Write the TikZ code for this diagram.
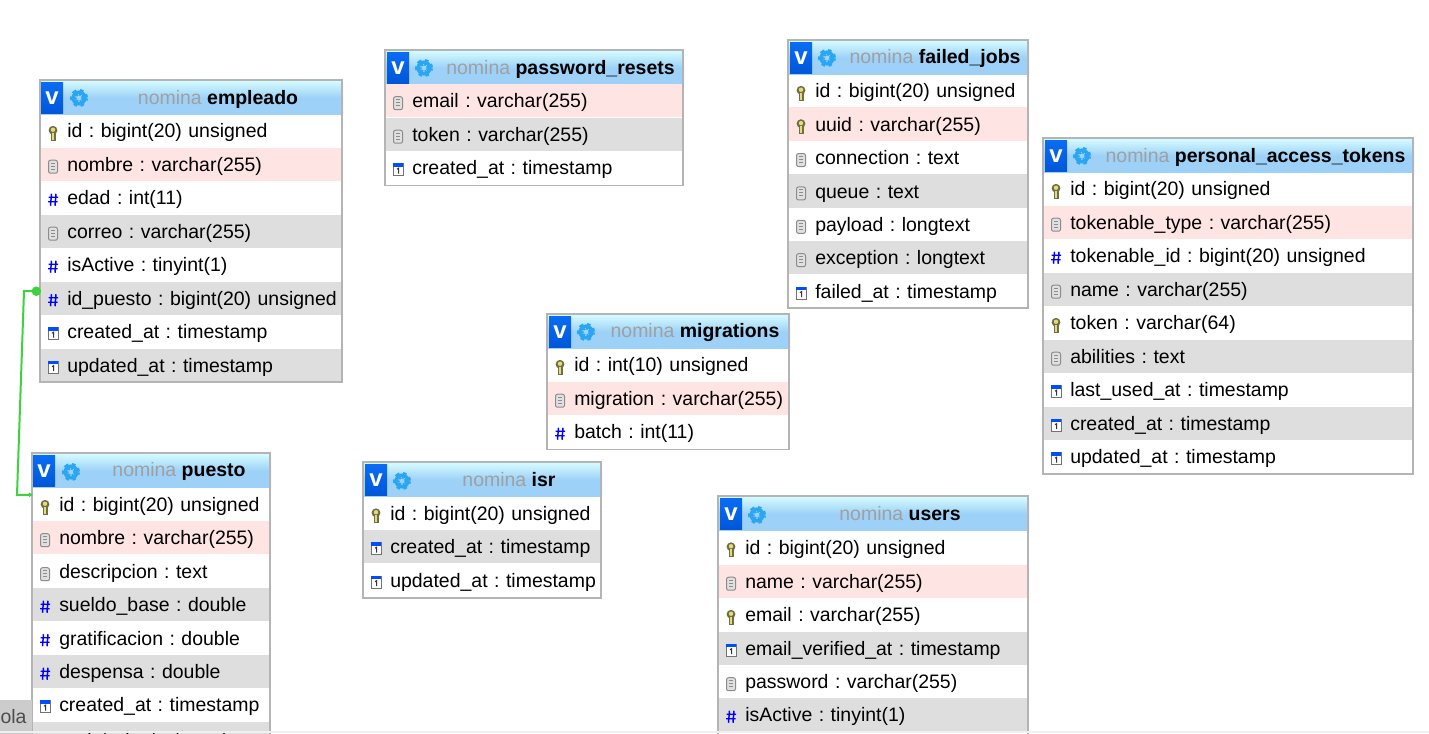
\documentclass[tikz,border=0pt]{standalone}
\usepackage{fontspec}
\setmainfont{Liberation Sans}
\usetikzlibrary{arrows.meta,positioning}
\definecolor{framegray}{HTML}{B4B4B4}
\definecolor{rowpinkc}{HTML}{FFE4E4}
\definecolor{rowgrayc}{HTML}{DEDEDE}
\definecolor{headtop}{HTML}{D4FBFF}
\definecolor{headmid}{HTML}{9DD1F7}
\definecolor{gearblue}{HTML}{2BA6F3}
\definecolor{fkgreen}{HTML}{3FD13F}
\definecolor{titlegray}{HTML}{A0A0A0}
\definecolor{vtop}{HTML}{0A6CF5}
\definecolor{vbot}{HTML}{0057D8}
\definecolor{keyedge}{HTML}{6E6E4A}
\definecolor{keyfill}{HTML}{E6DA72}
\frenchspacing
\hyphenpenalty=10000

\begin{document}
\begin{tikzpicture}
[x=0.75pt, y=-0.75pt, line width=0.75pt,
row/.style={rectangle, anchor=north west, inner sep=0pt, outer sep=0pt, align=left,
  minimum height=25.1pt, text height=12.8pt, text depth=2pt, font=\fontsize{14.6}{18}\selectfont,
  execute at begin node={\hspace*{19.7pt}}},
rowpink/.style={fill=rowpinkc},
rowgray/.style={fill=rowgrayc},
keypic/.pic={
  \fill[keyedge] (9.5,2) rectangle (15,10);
  \fill[keyedge] (12,-0.5) circle (4.4);
  \fill[keyfill] (12,-1) circle (2.2);
  \fill[keyfill] (11.2,2) rectangle (12.8,9);},
docpic/.pic={
  \draw[black!45,fill=black!12,rounded corners=1.5pt] (7.5,-4) rectangle (16.5,9);
  \draw[black!45] (10,-1) -- (14,-1) (10,2) -- (14,2) (10,5) -- (14,5);},
numpic/.pic={
  \draw[blue, line width=1.1pt] (10.5,-4) -- (9.5,8) (15,-4) -- (14,8) (7.5,-0.5) -- (17,-0.5) (7,4) -- (16.5,4);},
calpic/.pic={
  \draw[black!55,fill=white] (7,-4) rectangle (17,8);
  \fill[blue!70!cyan] (7,-4.5) rectangle (17,-1);
  \draw[black!80] (11,1.5) -- (12.5,0.5) -- (12.5,6);},
iconkey/.style={append after command={(\tikzlastnode.west) pic {keypic}}},
icondoc/.style={append after command={(\tikzlastnode.west) pic {docpic}}},
iconnum/.style={append after command={(\tikzlastnode.west) pic {numpic}}},
iconcal/.style={append after command={(\tikzlastnode.west) pic {calpic}}},
headbar/.style={rectangle, anchor=north west, inner sep=0pt, outer sep=0pt, minimum height=25pt,
  top color=headtop, bottom color=headmid, middle color=headmid},
vbutton/.style={rectangle, anchor=north west, inner sep=0pt, outer sep=0pt, minimum width=16.5pt, minimum height=23.5pt,
  top color=vtop, bottom color=vbot, text=white, font=\fontsize{18}{18}\selectfont\bfseries},
gearicon/.style={circle, draw=gearblue, line width=2.7pt, inner sep=0pt, minimum size=8.6pt,
  preaction={draw, line width=4.9pt, dash pattern=on 2.1pt off 2.1pt}},
tabletitle/.style={inner sep=0pt, yshift=-1.5pt, font=\fontsize{14.6}{18}\selectfont},
tableframe/.style={rectangle, anchor=north west, draw=framegray, line width=0.8pt, inner sep=0pt, outer sep=0pt},
fklink/.style={draw=fkgreen, line width=1.5pt, {Circle[length=7pt]}-{Latex[length=3pt,width=4pt]}}]

\path[use as bounding box,clip] (0,0) rectangle (1429,733);
\fill[white] (0,0) rectangle (1429,733);

% empleado
\begin{scope}[row/.append style={text width=226.5pt}]
\node[headbar, minimum width=226.5pt] (emphead) at (41,81) {};
\node[vbutton] (empv) at (41,82) {v};
\node[gearicon] (empgear) at (79,98) {};
\node[tabletitle] (emptitle) at (218,97) {\textcolor{titlegray}{nomina} \textbf{empleado}};
\node[row, iconkey] (emp1) at (41,114) {id : bigint(20) unsigned};
\node[row, rowpink, icondoc] (emp2) at (41,147.5) {nombre : varchar(255)};
\node[row, iconnum] (emp3) at (41,181) {edad : int(11)};
\node[row, rowgray, icondoc] (emp4) at (41,214.5) {correo : varchar(255)};
\node[row, iconnum] (emp5) at (41,248) {isActive : tinyint(1)};
\node[row, rowgray, iconnum] (emp6) at (41,281.5) {id\_puesto : bigint(20) unsigned};
\node[row, iconcal] (emp7) at (41,315) {created\_at : timestamp};
\node[row, rowgray, iconcal] (emp8) at (41,348.5) {updated\_at : timestamp};
\node[tableframe, minimum width=226.5pt, minimum height=226.5pt] (empbox) at (40,80) {};
\end{scope}

% password_resets
\begin{scope}[row/.append style={text width=223.5pt}]
\node[headbar, minimum width=223.5pt] (pwdhead) at (386,51) {};
\node[vbutton] (pwdv) at (387,52) {v};
\node[gearicon] (pwdgear) at (424,68) {};
\node[tabletitle] (pwdtitle) at (560.5,67) {\textcolor{titlegray}{nomina} \textbf{password\_resets}};
\node[row, rowpink, icondoc] (pwd1) at (386,84) {email : varchar(255)};
\node[row, rowgray, icondoc] (pwd2) at (386,117.5) {token : varchar(255)};
\node[row, iconcal] (pwd3) at (386,151) {created\_at : timestamp};
\node[tableframe, minimum width=223.5pt, minimum height=101.5pt] (pwdbox) at (385,50) {};
\end{scope}

% failed_jobs
\begin{scope}[row/.append style={text width=180pt}]
\node[headbar, minimum width=180pt] (jobhead) at (789,41) {};
\node[vbutton] (jobv) at (790,42) {v};
\node[gearicon] (jobgear) at (827,58) {};
\node[tabletitle] (jobtitle) at (935,56) {\textcolor{titlegray}{nomina} \textbf{failed\_jobs}};
\node[row, iconkey] (job1) at (789,74) {id : bigint(20) unsigned};
\node[row, rowpink, iconkey] (job2) at (789,107.4) {uuid : varchar(255)};
\node[row, icondoc] (job3) at (789,140.8) {connection : text};
\node[row, rowgray, icondoc] (job4) at (789,174.2) {queue : text};
\node[row, icondoc] (job5) at (789,207.6) {payload : longtext};
\node[row, rowgray, icondoc] (job6) at (789,241) {exception : longtext};
\node[row, iconcal] (job7) at (789,274.4) {failed\_at : timestamp};
\node[tableframe, minimum width=180pt, minimum height=201pt] (jobbox) at (788,40) {};
\end{scope}

% personal_access_tokens
\begin{scope}[row/.append style={text width=277.5pt}]
\node[headbar, minimum width=277.5pt] (tokhead) at (1044,139) {};
\node[vbutton] (tokv) at (1045,140) {v};
\node[gearicon] (tokgear) at (1082,156) {};
\node[tabletitle] (toktitle) at (1255.5,155) {\textcolor{titlegray}{nomina} \textbf{personal\_access\_tokens}};
\node[row, iconkey] (tok1) at (1044,172) {id : bigint(20) unsigned};
\node[row, rowpink, icondoc] (tok2) at (1044,205.5) {tokenable\_type : varchar(255)};
\node[row, iconnum] (tok3) at (1044,239) {tokenable\_id : bigint(20) unsigned};
\node[row, rowgray, icondoc] (tok4) at (1044,272.5) {name : varchar(255)};
\node[row, iconkey] (tok5) at (1044,306) {token : varchar(64)};
\node[row, rowgray, icondoc] (tok6) at (1044,339.5) {abilities : text};
\node[row, iconcal] (tok7) at (1044,373) {last\_used\_at : timestamp};
\node[row, rowgray, iconcal] (tok8) at (1044,406.5) {created\_at : timestamp};
\node[row, iconcal] (tok9) at (1044,440) {updated\_at : timestamp};
\node[tableframe, minimum width=277.5pt, minimum height=252pt] (tokbox) at (1043,138) {};
\end{scope}

% migrations
\begin{scope}[row/.append style={text width=181.5pt}]
\node[headbar, minimum width=181.5pt] (mighead) at (548,315) {};
\node[vbutton] (migv) at (549,316) {v};
\node[gearicon] (miggear) at (586,332) {};
\node[tabletitle] (migtitle) at (695,331) {\textcolor{titlegray}{nomina} \textbf{migrations}};
\node[row, iconkey] (mig1) at (548,348) {id : int(10) unsigned};
\node[row, rowpink, icondoc] (mig2) at (548,381.5) {migration : varchar(255)};
\node[row, iconnum] (mig3) at (548,415) {batch : int(11)};
\node[tableframe, minimum width=181.5pt, minimum height=101.5pt] (migbox) at (547,314) {};
\end{scope}

% isr
\begin{scope}[row/.append style={text width=178.5pt}]
\node[headbar, minimum width=178.5pt] (isrhead) at (364,463) {};
\node[vbutton] (isrv) at (365,464) {v};
\node[gearicon] (isrgear) at (402,481) {};
\node[tabletitle] (isrtitle) at (509,478) {\textcolor{titlegray}{nomina} \textbf{isr}};
\node[row, iconkey] (isr1) at (364,496.5) {id : bigint(20) unsigned};
\node[row, rowgray, iconcal] (isr2) at (364,530) {created\_at : timestamp};
\node[row, iconcal] (isr3) at (364,563.5) {updated\_at : timestamp};
\node[tableframe, minimum width=178.5pt, minimum height=102pt] (isrbox) at (363,462) {};
\end{scope}

% users
\begin{scope}[row/.append style={text width=232.5pt}]
\node[headbar, minimum width=232.5pt] (usrhead) at (719,497) {};
\node[vbutton] (usrv) at (720,498) {v};
\node[gearicon] (usrgear) at (757,515) {};
\node[tabletitle] (usrtitle) at (900,512) {\textcolor{titlegray}{nomina} \textbf{users}};
\node[row, iconkey] (usr1) at (719,530.5) {id : bigint(20) unsigned};
\node[row, rowpink, icondoc] (usr2) at (719,564.5) {name : varchar(255)};
\node[row, iconkey] (usr3) at (719,598) {email : varchar(255)};
\node[row, rowgray, iconcal] (usr4) at (719,631.5) {email\_verified\_at : timestamp};
\node[row, icondoc] (usr5) at (719,665) {password : varchar(255)};
\node[row, rowgray, iconnum] (usr6) at (719,698) {isActive : tinyint(1)};
\node[tableframe, minimum width=232.5pt, minimum height=240pt] (usrbox) at (718,496) {};
\end{scope}

% puesto
\begin{scope}[row/.append style={text width=178.5pt}]
\node[headbar, minimum width=178.5pt] (puehead) at (33,454) {};
\node[vbutton] (puev) at (33,455) {v};
\node[gearicon] (puegear) at (71,472) {};
\node[tabletitle] (puetitle) at (179,469) {\textcolor{titlegray}{nomina} \textbf{puesto}};
\node[row, iconkey] (pue1) at (33,488) {id : bigint(20) unsigned};
\node[row, rowpink, icondoc] (pue2) at (33,521) {nombre : varchar(255)};
\node[row, icondoc] (pue3) at (33,555) {descripcion : text};
\node[row, rowgray, iconnum] (pue4) at (33,588) {sueldo\_base : double};
\node[row, iconnum] (pue5) at (33,621.5) {gratificacion : double};
\node[row, rowgray, iconnum] (pue6) at (33,655) {despensa : double};
\node[row, iconcal] (pue7) at (33,688) {created\_at : timestamp};
\node[row, rowgray, iconcal] (pue8) at (33,722) {updated\_at : timestamp};
\node[tableframe, minimum width=178.5pt, minimum height=240pt] (puebox) at (32,453) {};
\end{scope}

\coordinate (fkbendA) at (24,291);
\coordinate (fkbendB) at (17,495);
\draw[fklink] ([yshift=5.2pt]emp6.west) -- (fkbendA) -- (fkbendB) -- ([yshift=7.5pt]pue1.west);

% tab and page edge
\node[rectangle, anchor=north west, fill=black!20, inner sep=0pt, minimum width=23.6pt, minimum height=26pt,
  text=black!70, font=\fontsize{14.6}{18}\selectfont, align=left] (olatab) at (0,699) {ola\hspace*{4.5pt}};
\fill[black!6] (0,730.5) rectangle (1429,733);

\end{tikzpicture}
\end{document}
